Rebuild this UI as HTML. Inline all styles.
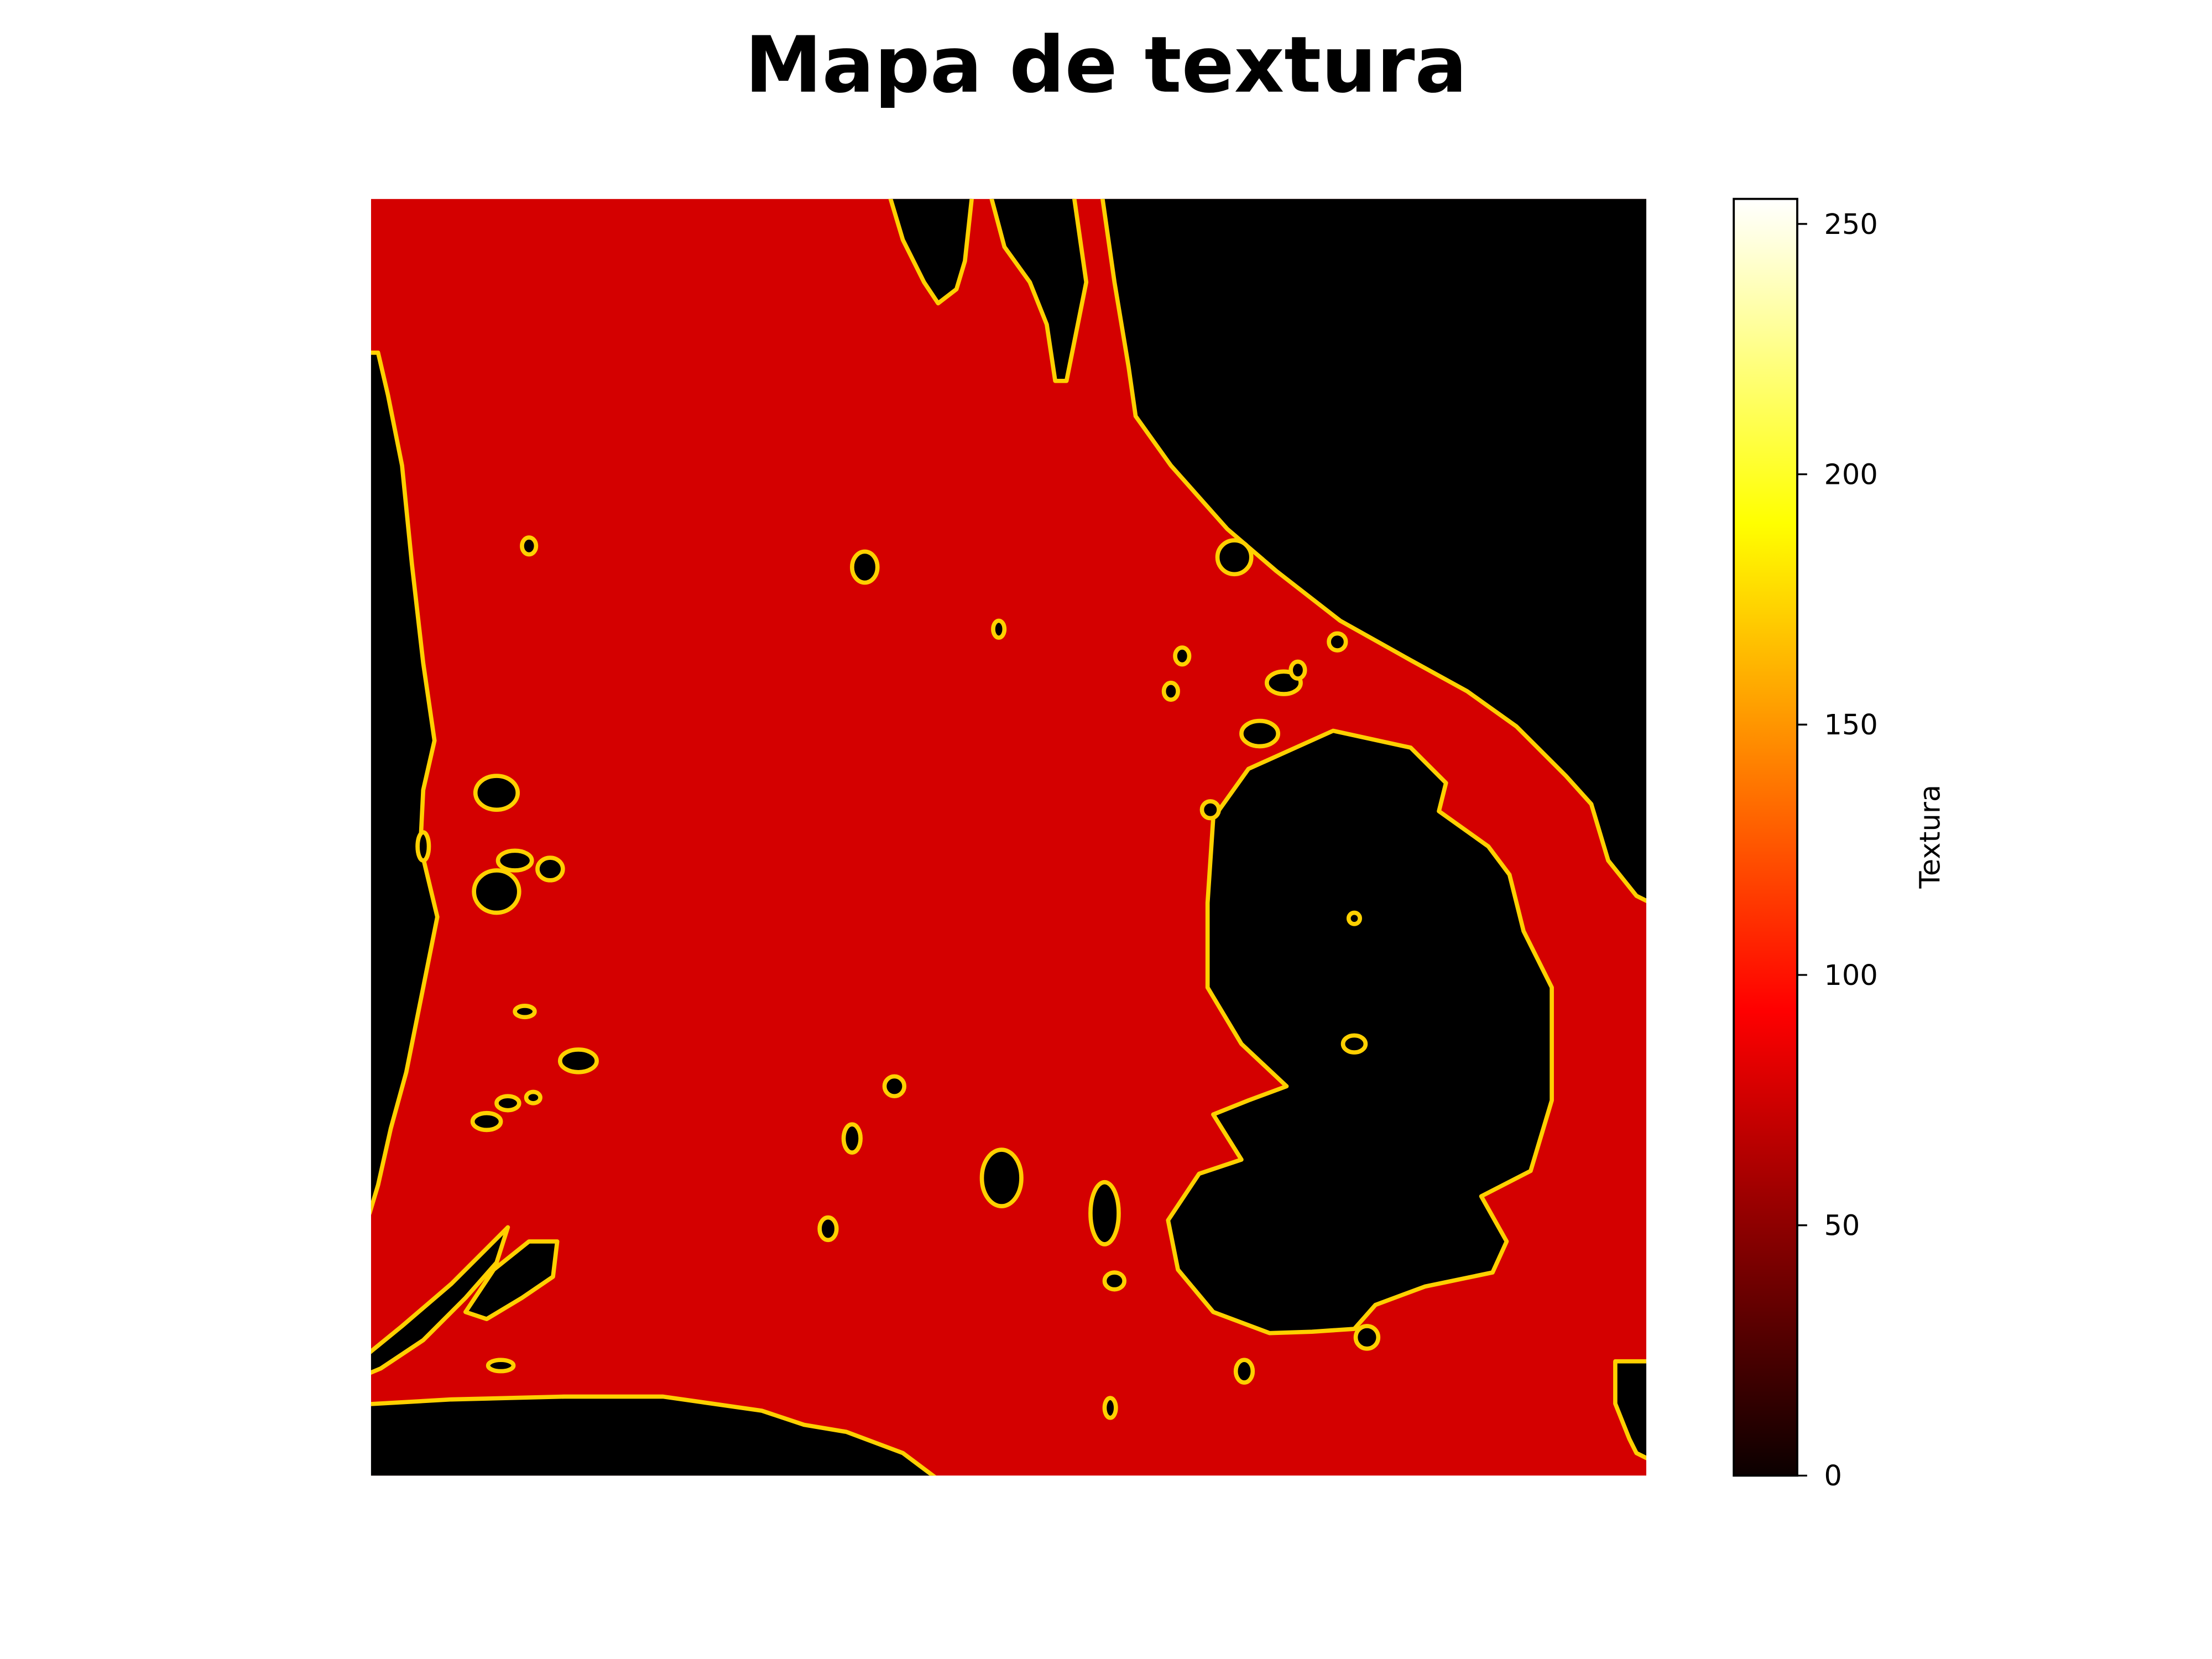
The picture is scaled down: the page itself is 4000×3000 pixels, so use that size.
<!DOCTYPE html>
<html><head><meta charset="utf-8"><style>
html,body{margin:0;padding:0;background:#fff}
svg{display:block}
text{font-family:"DejaVu Sans","Liberation Sans",sans-serif}
</style></head><body>
<svg id="fig" width="4000" height="3000" viewBox="0 0 1568 1176" xmlns="http://www.w3.org/2000/svg">
<defs>
<linearGradient id="hot" x1="0" y1="1" x2="0" y2="0">
<stop offset="0" stop-color="#0b0000"/>
<stop offset="0.365" stop-color="#ff0000"/>
<stop offset="0.746" stop-color="#ffff00"/>
<stop offset="1" stop-color="#ffffff"/>
</linearGradient>
<clipPath id="imgclip"><rect x="263" y="141" width="904" height="905"/></clipPath>
</defs>
<text x="784" y="65" text-anchor="middle" font-size="55" font-weight="bold">Mapa de textura</text>
<g clip-path="url(#imgclip)">
<rect x="263" y="141" width="904" height="905" fill="#d40000"/>
<g id="blobs" fill="#000" stroke="#ffd000" stroke-width="3" stroke-linejoin="round"></g>
</g>
<g id="cbar">
<rect x="1229" y="141" width="45" height="905" fill="url(#hot)" stroke="#000" stroke-width="1.5"/>
</g>
<text transform="translate(1375,593) rotate(-90)" text-anchor="middle" font-size="20">Textura</text>
<script>
var cbTicks=[0,50,100,150,200,250];
var cbMax=255;
var regions=[
"M250,250 L268,250 L275,280 L285,330 L292,400 L300,470 L308,525 L300,560 L298,600 L310,650 L300,700 L288,760 L277,800 L268,840 L262,860 L250,860 Z",
"M780,130 L790,200 L800,260 L805,295 L830,330 L870,375 L905,405 L950,440 L1000,468 L1040,490 L1075,515 L1110,550 L1128,570 L1140,610 L1160,635 L1180,645 L1180,130 Z",
"M628,130 L640,170 L655,200 L665,215 L678,205 L684,185 L690,130 Z",
"M700,130 L712,175 L730,200 L742,230 L748,270 L756,270 L762,240 L770,200 L760,130 Z",
"M945,518 L1000,530 L1025,555 L1020,575 L1055,600 L1070,620 L1080,660 L1100,700 L1100,780 L1085,830 L1050,848 L1068,880 L1058,902 L1010,912 L975,925 L960,942 L930,944 L900,945 L860,930 L835,900 L828,865 L850,832 L880,822 L860,790 L885,780 L912,770 L880,740 L856,700 L856,640 L860,580 L885,545 Z",
"M250,996 L320,992 L400,990 L470,990 L540,1000 L570,1010 L600,1015 L640,1030 L680,1060 L250,1060 Z",
"M1145,965 L1180,965 L1180,1040 L1160,1030 L1155,1020 L1145,995 Z",
"M258,962 L285,940 L320,910 L345,885 L360,870 L352,895 L330,920 L300,950 L270,970 L258,975 Z",
"M330,930 L350,900 L375,880 L395,880 L392,905 L370,920 L345,935 Z"
];
var ellipses=[[613,402,9,11],[710,835,14,20],[783,860,10,22],[352,562,15,12],[352,632,16,15],[365,610,12,7],[893,520,13,9],[587,871,6,8],[604,807,6,10],[634,770,7,7],[960,740,8,6],[969,948,8,8],[910,484,12,8],[838,465,5,6],[830,490,5,6],[410,752,13,8],[372,717,7,4],[345,795,10,6],[360,782,8,5],[378,778,5,4],[787,998,4,7],[882,972,6,8],[790,908,7,6],[960,651,4,4],[858,574,6,6],[355,968,9,4],[375,387,5,6],[948,455,6,6],[920,475,5,6],[708,446,4,6],[390,616,9,8],[300,600,4,10],[875,395,12,12]];
var svgNS="http://www.w3.org/2000/svg";
var g=document.getElementById('blobs');
regions.forEach(function(d){
var p=document.createElementNS(svgNS,'path');
p.setAttribute('d',d);


g.appendChild(p);
});
ellipses.forEach(function(e){
var el=document.createElementNS(svgNS,'ellipse');
el.setAttribute('cx',e[0]);el.setAttribute('cy',e[1]);el.setAttribute('rx',e[2]);el.setAttribute('ry',e[3]);


g.appendChild(el);
});
var cb=document.getElementById('cbar');
function cy(v){return 1046-v/cbMax*905;}
cbTicks.forEach(function(v){
var t=document.createElementNS(svgNS,'line');
t.setAttribute('x1',1274);t.setAttribute('x2',1281);t.setAttribute('y1',cy(v));t.setAttribute('y2',cy(v));
t.setAttribute('stroke','#000');t.setAttribute('stroke-width','1.3');


cb.appendChild(t);
var tx=document.createElementNS(svgNS,'text');
tx.setAttribute('x',1293);tx.setAttribute('y',cy(v)+7);tx.setAttribute('font-size','20');
tx.textContent=v;


cb.appendChild(tx);
});
</script>
</svg>
</body></html>
